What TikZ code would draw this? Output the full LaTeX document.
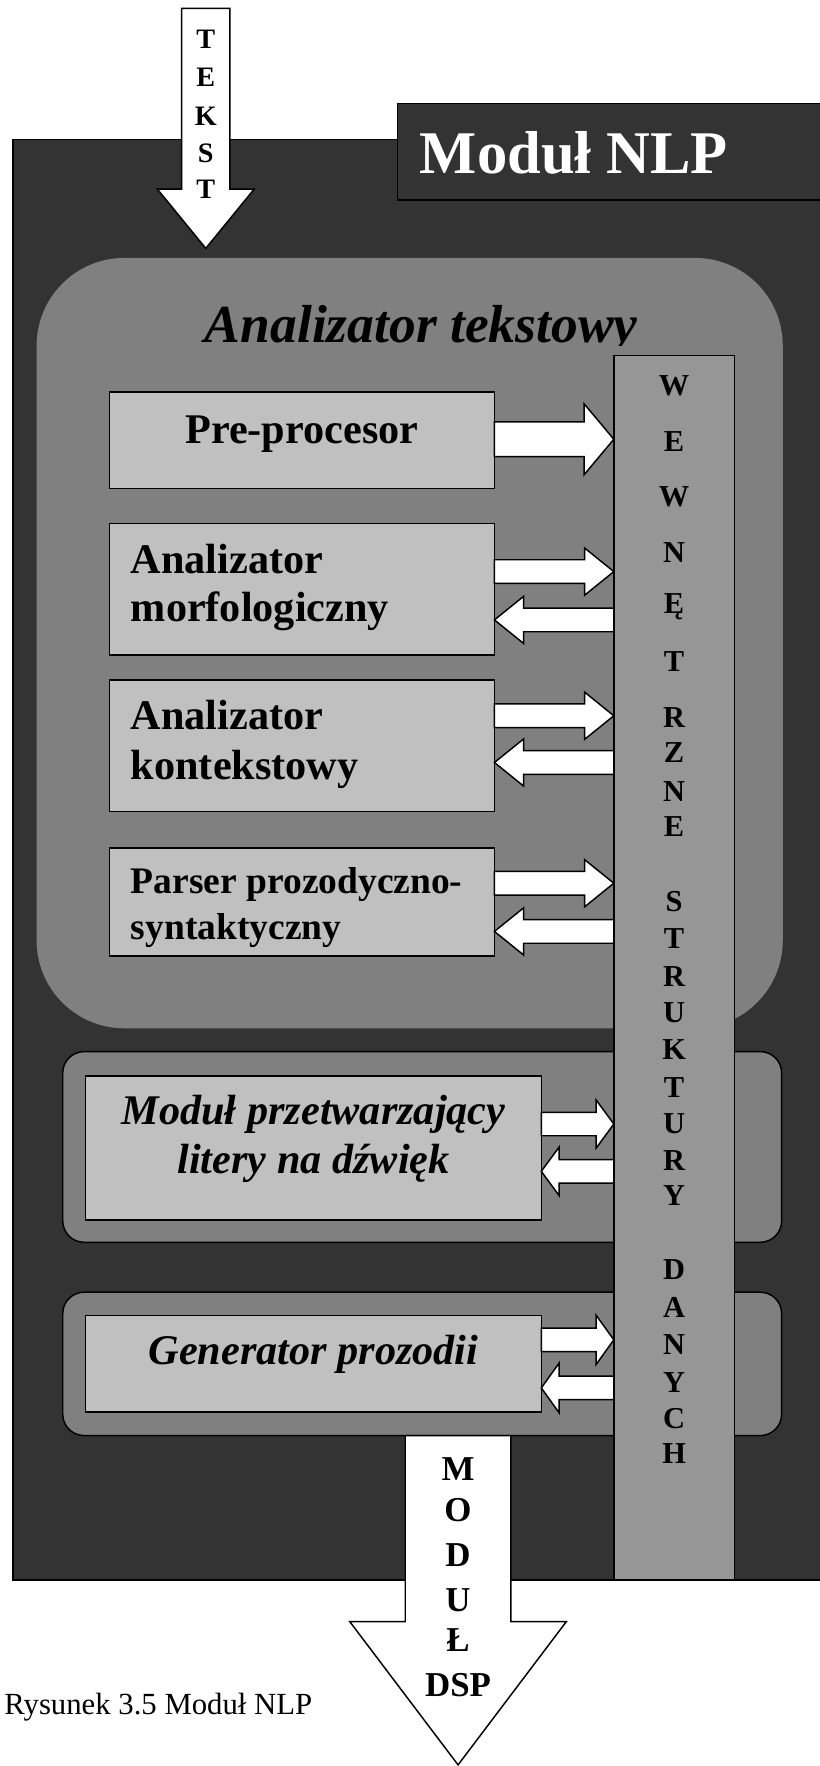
\documentclass[tikz,border=0pt]{standalone}
\usepackage{fontspec}
\setmainfont{Liberation Serif}
\usetikzlibrary{calc}

\definecolor{moddark}{HTML}{333333}
\definecolor{regiongray}{HTML}{808080}
\definecolor{busgray}{HTML}{969696}
\definecolor{boxgray}{HTML}{C0C0C0}

\newcommand{\fsz}[1]{\fontsize{#1}{#1}\selectfont}

% Block arrow from #2 to #3: shaft half-width #4, head half-width #5, head length #6
\newcommand{\blockarrow}[6][]{%
  \coordinate (bas) at (#2);
  \coordinate (bae) at (#3);
  \coordinate (bah) at ($(bae)!#6!(bas)$);
  \draw[flow,#1] ($(bas)!#4!90:(bae)$) -- ($(bah)!#4!90:(bae)$)
    -- ($(bah)!#5!90:(bae)$) -- (bae) -- ($(bah)!#5!-90:(bae)$)
    -- ($(bah)!#4!-90:(bae)$) -- ($(bas)!#4!-90:(bae)$) -- cycle;
}

\tikzset{
  panel/.style={draw=black, line width=1.3pt, inner sep=0pt, outer sep=0pt, anchor=north west},
  stage/.style={panel, fill=boxgray},
  section/.style={panel, fill=regiongray, rounded corners=19pt},
  flow/.style={draw=black, line width=1.3pt, fill=white, line join=miter},
  stagetext/.style={inner sep=0pt, anchor=base west, font=\bfseries\fsz{37.5}},
  stageitalic/.style={inner sep=0pt, anchor=base, font=\bfseries\itshape\fsz{37.5}},
  busletter/.style={inner sep=0pt, anchor=base, font=\bfseries\fsz{27}},
  inletter/.style={inner sep=0pt, anchor=base, font=\bfseries\fsz{25}},
  outletter/.style={inner sep=0pt, anchor=base, font=\bfseries\fsz{31}},
}

\begin{document}
\begin{tikzpicture}[x=1pt,y=-1pt]
\useasboundingbox (0,0) rectangle (728,1568);
\clip (0,0) rectangle (728,1568);

% NLP module frame and its title tab
\node[panel, fill=moddark, minimum width=740pt, minimum height=1279pt] (nlp) at (11.6,124) {};
\node[panel, fill=moddark, minimum width=400pt, minimum height=85.6pt] (title) at (353,92) {};
\node[inner sep=0pt, anchor=base, text=white, font=\bfseries\fsz{53.8}] (titletext) at (509.6,153.9) {Moduł NLP};

% incoming text
\coordinate (tekstTop) at (182.7,7.4);
\coordinate (tekstTip) at (182.7,220.5);
\blockarrow{tekstTop}{tekstTip}{21.45pt}{42.9pt}{52.5pt}
\foreach \ch/\yc [count=\i] in {T/34.6,E/68.8,K/102.8,S/136.1,T/167.8}
  \node[inletter] (in\i) at (182.7,\yc+8.3) {\ch};

% text analyser region
\node[inner sep=0pt, outer sep=0pt, anchor=north west, fill=regiongray, rounded corners=78pt,
      minimum width=662.5pt, minimum height=684pt] (ana) at (32.5,229) {};
\begin{scope}
  \clip (32.5,229) rectangle (695,306.5);
  \node[inner sep=0pt, anchor=base, font=\bfseries\itshape\fsz{47.5}] (anatitle) at (374,304) {Analizator tekstowy};
\end{scope}

% analyser stages
\node[stage, minimum width=342pt, minimum height=85.5pt] (pre) at (97,348) {};
\node[inner sep=0pt, anchor=base, font=\bfseries\fsz{37.5}] (pretext) at (268,393.6) {Pre-procesor};

\node[stage, minimum width=342pt, minimum height=116.9pt] (morf) at (97,464.6) {};
\node[stagetext] (morfA) at (116,509) {Analizator};
\node[stagetext] (morfB) at (116,552) {morfologiczny};

\node[stage, minimum width=342pt, minimum height=116.9pt] (kont) at (97,603.7) {};
\node[stagetext] (kontA) at (116,648) {Analizator};
\node[stagetext] (kontB) at (116,692.5) {kontekstowy};

\node[stage, minimum width=342pt, minimum height=95.7pt] (pars) at (97,753) {};
\node[stagetext, font=\bfseries\fsz{33.3}] (parsA) at (116,793) {Parser prozodyczno-};
\node[stagetext, font=\bfseries\fsz{33.3}] (parsB) at (116,834.5) {syntaktyczny};

% letter-to-sound module
\node[section, minimum width=638.3pt, minimum height=169.3pt] (secA) at (55.7,933.7) {};
\node[stage, minimum width=404.9pt, minimum height=127.7pt] (lts) at (75.7,955.3) {};
\node[stageitalic] (ltsA) at (278.4,998.8) {Moduł przetwarzający};
\node[stageitalic] (ltsB) at (278.4,1041.7) {litery na dźwięk};

% prosody generator
\node[section, minimum width=638.3pt, minimum height=127.3pt] (secB) at (55.7,1147.3) {};
\node[stage, minimum width=404.9pt, minimum height=85.8pt] (gen) at (75.7,1168) {};
\node[stageitalic] (gentext) at (278.4,1211.8) {Generator prozodii};

% output towards the DSP module
\coordinate (dspTip) at (406.7,1567);
\blockarrow{secB.south -| 406.7,0}{dspTip}{46.9pt}{96.2pt}{127.3pt}
\foreach \ch/\yc [count=\i] in {M/1304.5,O/1340.6,D/1380.5,U/1420.5,Ł/1456,DSP/1496}
  \node[outletter] (out\i) at (406.7,\yc+10.3) {\ch};

% internal data structures
\node[panel, fill=busgray, minimum width=107pt, minimum height=1087.5pt] (bus) at (545,315.5) {};
\foreach \ch/\yc [count=\i] in {W/342,E/392,W/441,N/490,Ę/536,T/587,R/637,Z/668,N/703,E/734,
    S/800,T/833,R/867,U/899,K/932,T/965,U/997,R/1030,Y/1061,
    D/1127,A/1161,N/1194,Y/1227,C/1259,H/1290}
  \node[busletter] (bus\i) at (598.5,\yc+9) {\ch};

% exchanges between the stages and the data structures
\blockarrow{pre.east |- 0,390}{bus.west |- 0,390}{15.5pt}{31.5pt}{26.4pt}
\blockarrow{morf.east |- 0,507.5}{bus.west |- 0,507.5}{10.5pt}{21pt}{26pt}
\blockarrow{bus.west |- 0,550.4}{morf.east |- 0,550.4}{10.5pt}{21pt}{26pt}
\blockarrow{kont.east |- 0,635.5}{bus.west |- 0,635.5}{10.5pt}{21pt}{26pt}
\blockarrow{bus.west |- 0,677}{kont.east |- 0,677}{10.5pt}{21pt}{26pt}
\blockarrow{pars.east |- 0,784.2}{bus.west |- 0,784.2}{10.5pt}{21pt}{26pt}
\blockarrow{bus.west |- 0,827}{pars.east |- 0,827}{10.5pt}{21pt}{26pt}
\blockarrow{lts.east |- 0,998}{bus.west |- 0,998}{10.4pt}{21.5pt}{15.8pt}
\blockarrow{bus.west |- 0,1040}{lts.east |- 0,1040}{10.4pt}{21.5pt}{15.8pt}
\blockarrow{gen.east |- 0,1189.6}{bus.west |- 0,1189.6}{10.4pt}{22pt}{15.8pt}
\blockarrow{bus.west |- 0,1232.3}{gen.east |- 0,1232.3}{10.4pt}{22pt}{15.8pt}

% caption
\node[inner sep=0pt, anchor=base east, font=\fsz{27.3}] (caption) at (277.5,1522) {Rysunek 3.5 Moduł NLP};
\end{tikzpicture}
\end{document}
